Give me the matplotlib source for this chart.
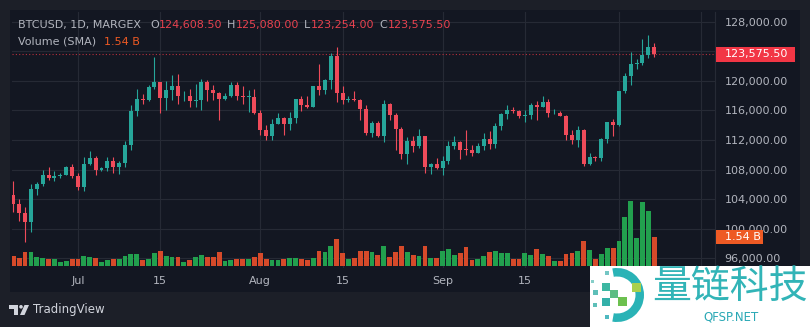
import numpy as np
import pandas as pd
import matplotlib
matplotlib.use("Agg")
import matplotlib.pyplot as plt
import matplotlib.dates as mdates
from matplotlib.patches import Rectangle, Wedge, Polygon, Circle

# BTCUSD daily candles (MARGEX), prices in thousands of USD
start_date = "2025-06-20"
open_k = [104.6, 103.3, 102.1, 100.9, 105.4, 106.0, 107.3, 106.9, 107.1, 107.3,
          108.4, 107.1, 105.7, 108.8, 109.6, 108.0, 108.2, 109.2, 108.3, 108.9,
          111.3, 115.9, 117.5, 117.4, 119.1, 119.8, 117.7, 118.7, 119.3, 117.9,
          117.9, 117.3, 117.4, 119.9, 118.7, 118.3, 117.6, 117.9, 119.4, 118.0,
          117.8, 117.8, 115.7, 113.3, 112.5, 114.2, 115.0, 114.1, 115.0, 117.5,
          116.7, 116.5, 119.3, 118.7, 120.1, 123.3, 118.3, 117.4, 117.5, 117.4,
          116.2, 112.9, 114.3, 112.5, 116.9, 115.4, 113.5, 110.1, 111.8, 111.2,
          112.6, 108.4, 108.8, 108.2, 109.2, 111.2, 111.7, 110.8, 110.7, 110.2,
          111.2, 112.1, 111.5, 113.9, 115.5, 116.1, 115.9, 115.3, 115.4, 116.8,
          116.5, 117.1, 115.6, 115.7, 115.3, 112.7, 112.0, 113.3, 108.7, 109.7,
          109.6, 112.1, 114.4, 114.0, 118.6, 120.6, 122.3, 122.4, 123.5, 124.6085]
high_k = [106.5, 104.0, 103.0, 106.0, 106.3, 108.0, 108.3, 107.8, 107.6, 108.5,
          108.8, 107.5, 109.7, 110.5, 109.8, 108.4, 109.7, 109.7, 109.2, 111.9,
          116.8, 118.9, 118.2, 119.5, 123.2, 119.9, 120.0, 120.8, 120.9, 118.6,
          118.9, 119.6, 120.3, 120.1, 119.5, 118.5, 118.3, 119.8, 119.8, 119.3,
          118.8, 118.9, 116.1, 114.0, 114.8, 115.7, 115.1, 115.8, 117.6, 117.9,
          117.9, 119.3, 122.3, 120.3, 123.7, 124.6, 119.3, 117.9, 118.6, 117.6,
          116.8, 114.6, 114.6, 117.4, 117.0, 115.7, 113.7, 112.4, 112.6, 113.5,
          112.6, 108.9, 109.5, 109.9, 111.8, 112.6, 111.8, 113.4, 111.3, 111.6,
          112.9, 113.2, 114.3, 115.6, 116.7, 116.4, 116.1, 116.1, 117.0, 117.3,
          117.9, 117.5, 116.2, 115.9, 115.4, 113.3, 113.9, 113.5, 110.3, 109.8,
          112.3, 114.5, 114.8, 118.6, 121.0, 123.9, 122.9, 125.7, 126.2, 125.08]
low_k = [102.3, 101.0, 98.2, 99.6, 104.6, 105.8, 106.6, 106.4, 106.9, 107.2,
         106.8, 105.3, 105.1, 108.6, 107.3, 107.8, 107.8, 107.5, 107.4, 108.3,
         110.6, 115.2, 116.9, 117.3, 118.9, 115.7, 116.0, 117.4, 116.9, 117.3,
         116.5, 116.4, 116.1, 117.3, 117.4, 114.7, 117.4, 117.8, 117.4, 116.9,
         115.8, 115.5, 112.7, 112.0, 112.0, 114.1, 112.7, 113.4, 114.3, 115.9,
         116.3, 116.5, 118.1, 118.2, 118.9, 117.2, 116.9, 117.2, 117.3, 114.7,
         112.7, 112.4, 112.4, 111.7, 114.7, 110.7, 109.4, 108.7, 110.4, 110.9,
         107.5, 107.4, 108.1, 107.3, 108.7, 110.8, 109.4, 110.0, 109.9, 110.2,
         110.6, 110.8, 110.9, 113.4, 114.8, 115.6, 115.0, 114.4, 114.8, 114.7,
         116.4, 115.1, 115.5, 115.2, 112.0, 111.5, 111.1, 108.5, 108.6, 109.2,
         109.2, 111.6, 112.6, 113.9, 118.4, 119.4, 121.6, 122.1, 123.1, 123.254]
close_k = [103.3, 102.1, 100.9, 105.4, 106.0, 107.3, 106.9, 107.1, 107.3, 108.4,
           107.1, 105.7, 108.8, 109.6, 108.0, 108.2, 109.2, 108.3, 108.9, 111.3,
           115.9, 117.5, 117.4, 119.1, 119.8, 117.7, 118.7, 119.3, 117.9, 117.9,
           117.3, 117.4, 119.9, 118.7, 118.3, 117.6, 117.9, 119.4, 118.0, 117.8,
           117.8, 115.7, 113.3, 112.5, 114.2, 115.0, 114.1, 115.0, 117.5, 116.7,
           116.5, 119.3, 118.7, 120.1, 123.3, 118.3, 117.4, 117.5, 117.4, 116.2,
           112.9, 114.3, 112.5, 116.9, 115.4, 113.5, 110.1, 111.8, 111.2, 112.6,
           108.4, 108.8, 108.2, 109.2, 111.2, 111.7, 110.7, 110.7, 110.2, 111.2,
           112.1, 111.5, 113.9, 115.5, 116.1, 115.9, 115.3, 115.4, 116.8, 116.5,
           117.1, 115.6, 115.7, 115.3, 112.7, 112.0, 113.3, 108.7, 109.7, 109.6,
           112.1, 114.4, 114.0, 118.6, 120.6, 122.3, 122.4, 123.5, 124.6, 123.5755]
# volume, billions
volume_b = [0.53, 0.42, 0.74, 0.74, 0.48, 0.42, 0.37, 0.37, 0.21, 0.27, 0.37,
            0.37, 0.53, 0.48, 0.42, 0.21, 0.32, 0.37, 0.37, 0.53, 0.64, 0.64,
            0.32, 0.37, 0.69, 0.80, 0.53, 0.48, 0.48, 0.21, 0.32, 0.48, 0.58,
            0.48, 0.48, 0.74, 0.27, 0.32, 0.37, 0.37, 0.37, 0.48, 0.69, 0.37,
            0.32, 0.32, 0.37, 0.42, 0.42, 0.37, 0.32, 0.42, 0.80, 0.74, 1.06,
            1.43, 0.69, 0.37, 0.42, 0.80, 0.80, 0.74, 0.58, 1.06, 0.48, 0.74,
            1.06, 0.74, 0.58, 0.53, 1.06, 0.42, 0.42, 0.80, 0.90, 0.58, 0.69,
            1.01, 0.32, 0.37, 0.53, 0.74, 0.80, 0.69, 0.69, 0.37, 0.37, 0.69,
            0.58, 0.90, 0.64, 0.53, 0.27, 0.27, 0.64, 0.69, 0.80, 1.33, 0.85,
            0.37, 0.64, 0.96, 0.96, 1.33, 2.60, 3.45, 1.49, 3.40, 2.92, 1.54]

tick_dates = ["2025-07-01", "2025-07-15", "2025-08-01", "2025-08-15",
              "2025-09-01", "2025-09-15", "2025-10-01", "2025-10-15"]
tick_labels = ["Jul", "15", "Aug", "15", "Sep", "15", "Oct", "15"]
price_ticks = list(range(96000, 128001, 4000))

BG_OUT = "#1c1f28"
BG_PANEL = "#131722"
GRID = "#262a35"
TEXT = "#b2b5be"
UP = "#26a69a"
DOWN = "#ef4b5a"
VOL_UP = "#22a04e"
VOL_DOWN = "#d64a2a"
VOL_LABEL = "#ee5a24"

W, H = 810, 327
WM_X, WM_Y = 590, 266  # corner of the watermark box

o = np.round(np.array(open_k) * 1000, 2)
hi = np.round(np.array(high_k) * 1000, 2)
lo = np.round(np.array(low_k) * 1000, 2)
c = np.round(np.array(close_k) * 1000, 2)
vol = np.array(volume_b)
dates = pd.date_range(start_date, periods=len(c))
x = mdates.date2num(dates)
up = c >= o

fig = plt.figure(figsize=(W / 100, H / 100), dpi=100, facecolor=BG_OUT)

# background panel (pixel coordinates)
bg = fig.add_axes([0, 0, 1, 1], zorder=-1)
bg.set_xlim(0, W)
bg.set_ylim(H, 0)
bg.axis("off")
bg.add_patch(Rectangle((10, 10), 790, 282, facecolor=BG_PANEL, edgecolor="none"))

ax = fig.add_axes([12 / W, 1 - 268 / H, (715 - 12) / W, (268 - 12) / H])
ax.set_facecolor(BG_PANEL)
vax = ax.twinx()

# volume
vax.bar(x, vol, width=0.82, color=np.where(up, VOL_UP, VOL_DOWN), linewidth=0)
vax.set_ylim(-0.106, 13.49)
vax.set_yticks([])
for s in vax.spines.values():
    s.set_visible(False)

# candles
col = np.where(up, UP, DOWN)
ax.vlines(x, lo, hi, colors=col, linewidth=0.8, zorder=2)
body = np.maximum(np.abs(c - o), 90)
ax.bar(x, body, bottom=np.minimum(o, c), width=0.68, color=col, linewidth=0, zorder=3)

ax.axhline(c[-1], color="#f23645", linestyle=(0, (1, 2)), linewidth=0.8, alpha=0.75, zorder=1)

ax.set_xlim(x[0] - 0.22, x[0] + 119.33)
ax.set_ylim(94690, 129310)
ax.set_xticks(mdates.date2num(pd.to_datetime(tick_dates)))
ax.set_xticklabels(tick_labels)
ax.set_yticks(price_ticks)
ax.set_yticklabels([f"{p:,.2f}" for p in price_ticks])
ax.yaxis.tick_right()
ax.tick_params(axis="y", length=0, pad=7, labelsize=8, labelcolor=TEXT)
ax.tick_params(axis="x", length=0, pad=6, labelsize=8, labelcolor=TEXT)
ax.grid(True, color=GRID, linewidth=0.8)
ax.set_axisbelow(True)
for name, s in ax.spines.items():
    s.set_visible(name == "right")
ax.spines["right"].set_color(GRID)


def to_px(axis, xval, yval):
    dx, dy = axis.transData.transform((xval, yval))
    return dx, H - dy


# labels hidden in the screenshot: under the last-price tag and the watermark
last_px = to_px(ax, x[0], c[-1])[1]
for p, lab in zip(price_ticks, ax.get_yticklabels()):
    if abs(to_px(ax, x[0], p)[1] - last_px) < 8:
        lab.set_visible(False)
for t, lab in zip(ax.get_xticks(), ax.get_xticklabels()):
    if to_px(ax, t, c[-1])[0] > WM_X - 10:
        lab.set_visible(False)

# overlay in pixel coordinates
top = fig.add_axes([0, 0, 1, 1], zorder=10)
top.set_xlim(0, W)
top.set_ylim(H, 0)
top.axis("off")
top.patch.set_alpha(0)

# last price label
py = last_px
top.add_patch(Rectangle((716, py - 7.5), 79, 15, facecolor="#f23645", edgecolor="none"))
top.text(725, py, f"{c[-1]:,.2f}", color="white", fontsize=8, va="center", ha="left")

# last volume label
vy = to_px(vax, x[0], vol[-1])[1]
top.add_patch(Rectangle((716, vy - 7), 47, 14, facecolor=VOL_LABEL, edgecolor="none"))
top.text(725, vy, f"{vol[-1]:.2f} B", color="white", fontsize=8, va="center", ha="left")

# legend header
red_txt = "#e8424f"
top.text(18, 25, "BTCUSD, 1D, MARGEX", color=TEXT, fontsize=8, va="center")
for lx, letter, vx, val in [(150, "O", 159, o[-1]), (227, "H", 236, hi[-1]),
                            (304, "L", 311, lo[-1]), (379, "C", 388, c[-1])]:
    top.text(lx, 25, letter, color=TEXT, fontsize=8, va="center")
    top.text(vx, 25, f"{val:,.2f}", color=red_txt, fontsize=8, va="center")
top.text(18, 42, "Volume (SMA)", color=TEXT, fontsize=8, va="center")
top.text(104, 42, f"{vol[-1]:.2f} B", color=VOL_LABEL, fontsize=8, va="center")

# TradingView mark
logo = "#d1d4dc"
top.add_patch(Polygon([(9, 305), (18, 305), (18, 315), (14, 315), (14, 308.5), (9, 308.5)],
                      closed=True, facecolor=logo, edgecolor="none"))
top.add_patch(Circle((21, 306.8), 1.8, facecolor=logo, edgecolor="none"))
top.add_patch(Polygon([(24.5, 305), (29, 305), (24.5, 315), (20, 315)],
                      closed=True, facecolor=logo, edgecolor="none"))
top.text(33, 310, "TradingView", color=logo, fontsize=8.5, va="center")

# watermark
top.add_patch(Rectangle((WM_X, WM_Y), W - WM_X, H - WM_Y, facecolor="white", edgecolor="none"))
top.add_patch(Wedge((617, 295), 27, -100, 100, width=8.5, facecolor="#2ab3b6", edgecolor="none"))
for (sx, sy, sz, sc) in [(632, 283, 9, "#a9d04c"), (618, 297, 9, "#6cc04f"),
                         (602, 283, 8, "#3db7a2"), (602, 298, 8, "#33b0a9"),
                         (610, 290, 8, "#5cbd82"), (593, 290, 5, "#5dbfb8"),
                         (605, 271, 4, "#74c6c4"), (593, 303, 4, "#5dbfb8"),
                         (605, 315, 4, "#4fb9c0"), (590.5, 280, 3, "#86cfc9")]:
    top.add_patch(Rectangle((sx, sy), sz, sz, facecolor=sc, edgecolor="none"))
top.text(652, 287, "量链科技", color="#32b4b7", fontsize=28, va="center", ha="left",
         family=["Noto Sans CJK SC", "DejaVu Sans"])
top.text(703, 317, "QFSP.NET", color="#2aa8b5", fontsize=8.5, va="center", ha="left")

fig.savefig("out.png", dpi=100, facecolor=BG_OUT)
